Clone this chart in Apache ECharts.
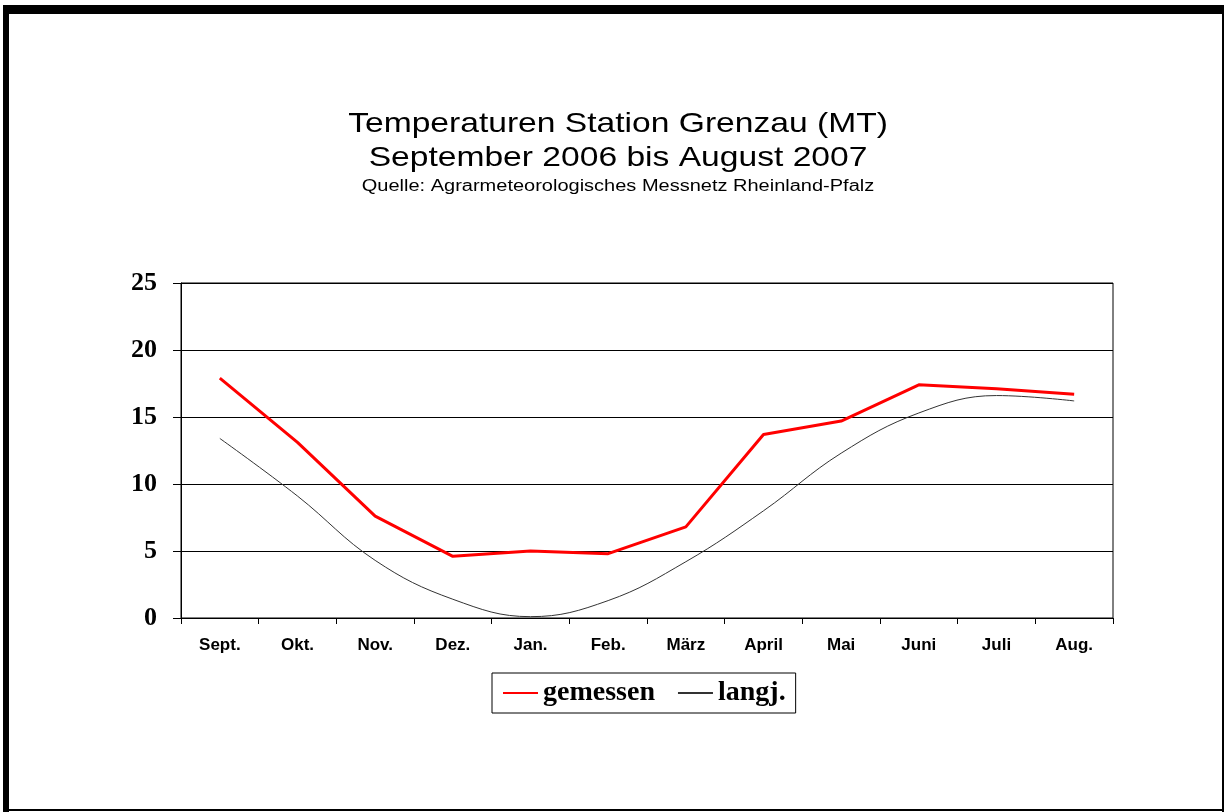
<!DOCTYPE html>
<html>
<head>
<meta charset="utf-8">
<script src="https://cdn.jsdelivr.net/npm/echarts@6/dist/echarts.min.js"></script>
<style>
html,body{margin:0;padding:0;background:#fff;}
#c{width:1224px;height:812px;}
</style>
</head>
<body>
<div id="c"></div>
<script>
var categories = ['Sept.','Okt.','Nov.','Dez.','Jan.','Feb.','März','April','Mai','Juni','Juli','Aug.'];
var gemessen = [17.9, 13.1, 7.6, 4.6, 5.0, 4.8, 6.8, 13.7, 14.7, 17.4, 17.1, 16.7];
var langj = [13.4, 9.1, 4.3, 1.4, 0.1, 1.3, 4.2, 8.0, 12.3, 15.3, 16.6, 16.2];
var titleLines = ['Temperaturen Station Grenzau (MT)', 'September 2006 bis August 2007', 'Quelle: Agrarmeteorologisches Messnetz Rheinland-Pfalz'];

var chart = echarts.init(document.getElementById('c'), null, {renderer:'canvas'});
var sans = "'Liberation Sans', Arial, sans-serif";
var serif = "'Liberation Serif', 'Times New Roman', serif";
function titleText(txt, y, size, sx) {
  return {type: 'text', x: 618, y: y, scaleX: sx, z: 10,
    style: {text: txt, font: 'normal ' + size + 'px ' + sans, fill: '#000', textAlign: 'center', textVerticalAlign: 'middle'}};
}
chart.setOption({
  backgroundColor: '#ffffff',
  animation: false,
  graphic: [
    {type: 'rect', shape: {x: 3, y: 5, width: 1221, height: 9}, style: {fill: '#000'}},
    {type: 'rect', shape: {x: 3, y: 5, width: 6, height: 807}, style: {fill: '#000'}},
    {type: 'rect', shape: {x: 1222, y: 5, width: 2, height: 807}, style: {fill: '#000'}},
    {type: 'rect', shape: {x: 3, y: 809, width: 1221, height: 2}, style: {fill: '#000'}},
    titleText(titleLines[0], 124, 28, 1.2),
    titleText(titleLines[1], 158, 28, 1.2),
    titleText(titleLines[2], 187, 16, 1.25)
  ],
  legend: {
    left: 492, top: 673,
    itemWidth: 35, itemHeight: 14, itemGap: 22,
    padding: [6, 10, 6, 10],
    borderColor: '#000', borderWidth: 1,
    itemStyle: {opacity: 0},
    textStyle: {fontFamily: serif, fontSize: 28, fontWeight: 'bold', color: '#000'},
    data: ['gemessen', 'langj.']
  },
  grid: {left: 181, right: 111, top: 283, bottom: 194, show: true, borderColor: '#000', borderWidth: 1, containLabel: false},
  xAxis: {
    type: 'category',
    data: categories,
    boundaryGap: true,
    axisLine: {lineStyle: {color: '#000', width: 1}},
    axisTick: {show: true, length: 6, inside: false, lineStyle: {color: '#000'}},
    axisLabel: {fontFamily: sans, fontSize: 17, fontWeight: 'bold', color: '#000', margin: 19, interval: 0},
    splitLine: {show: false}
  },
  yAxis: {
    type: 'value',
    min: 0, max: 25, interval: 5,
    axisLine: {show: true, lineStyle: {color: '#000', width: 1}},
    axisTick: {show: true, length: 8, lineStyle: {color: '#000'}},
    axisLabel: {fontFamily: serif, fontSize: 26, fontWeight: 'bold', color: '#000', margin: 24},
    splitLine: {show: true, lineStyle: {color: '#000', width: 1}}
  },
  series: [
    {name: 'gemessen', type: 'line', data: gemessen, symbol: 'none', smooth: false,
     lineStyle: {color: '#ff0000', width: 3}, itemStyle: {color: '#ff0000'}},
    {name: 'langj.', type: 'line', data: langj, symbol: 'none', smooth: 0.4,
     lineStyle: {color: '#333333', width: 1}, itemStyle: {color: '#333333'}}
  ]
});
</script>
</body>
</html>
